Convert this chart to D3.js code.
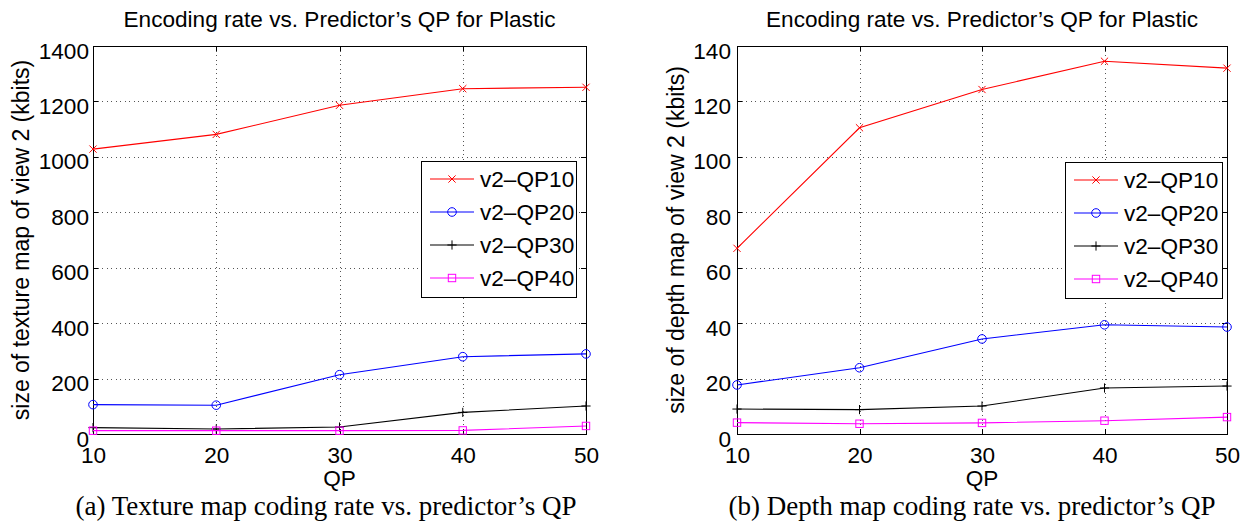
<!DOCTYPE html>
<html>
<head>
<meta charset="utf-8">
<script src="https://cdn.jsdelivr.net/npm/d3@7"></script>
<style>
  html, body { margin: 0; padding: 0; background: #fff; }
  svg { display: block; }
  text { font-family: "Liberation Sans", Arial, Helvetica, sans-serif; fill: #000; }
  .caption { font-family: "Liberation Serif", "Times New Roman", serif; }
</style>
</head>
<body>
<svg id="chart" width="1250" height="521"></svg>
<script>
// ---------- data ----------
const qpValues = [10, 20, 30, 40, 50];
const seriesNames = ["v2\u2013QP10", "v2\u2013QP20", "v2\u2013QP30", "v2\u2013QP40"];
const seriesColors = ["#ff0000", "#0000ff", "#000000", "#ff00ff"];
const seriesMarkers = ["x", "circle", "plus", "square"];

// (a) texture map size (kbits)
const textureQP10 = [1028, 1081, 1186, 1246, 1251];
const textureQP20 = [106, 104, 214, 279, 289];
const textureQP30 = [23, 18, 25, 78, 101];
const textureQP40 = [12, 12, 12, 13, 29];
const textureTicks = [0, 200, 400, 600, 800, 1000, 1200, 1400];

// (b) depth map size (kbits)
const depthQP10 = [67.0, 110.5, 124.3, 134.5, 132.0];
const depthQP20 = [17.7, 23.9, 34.3, 39.4, 38.6];
const depthQP30 = [9.0, 8.8, 10.1, 16.6, 17.3];
const depthQP40 = [4.1, 3.7, 4.0, 4.8, 6.1];
const depthTicks = [0, 20, 40, 60, 80, 100, 120, 140];

const titleText = "Encoding rate vs. Predictor\u2019s QP for Plastic";
const xLabelText = "QP";

const panels = [
  {
    series: [textureQP10, textureQP20, textureQP30, textureQP40],
    yTicks: textureTicks, yMax: 1400,
    yLabel: "size of texture map of view 2 (kbits)",
    caption: "(a) Texture map coding rate vs. predictor\u2019s QP",
    rect: { x0: 93, x1: 586, y0: 46, y1: 434 },
    yLabelX: 29, tickGap: 4, captionX: 326,
    legend: { x: 421, y: 161, w: 155, h: 136 }
  },
  {
    series: [depthQP10, depthQP20, depthQP30, depthQP40],
    yTicks: depthTicks, yMax: 140,
    yLabel: "size of depth map of view 2 (kbits)",
    caption: "(b) Depth map coding rate vs. predictor\u2019s QP",
    rect: { x0: 737, x1: 1227, y0: 46, y1: 434 },
    yLabelX: 684, tickGap: 6, captionX: 972,
    legend: { x: 1065, y: 162, w: 157, h: 136 }
  }
];

const FS = 22.6;
const svg = d3.select("#chart");

function drawMarker(g, type, cx, cy, color) {
  if (type === "x") {
    const s = 3.6;
    g.append("path").attr("d", `M${cx - s},${cy - s}L${cx + s},${cy + s}M${cx - s},${cy + s}L${cx + s},${cy - s}`)
      .attr("stroke", color).attr("stroke-width", 1).attr("fill", "none");
  } else if (type === "circle") {
    g.append("circle").attr("cx", cx).attr("cy", cy).attr("r", 4.3)
      .attr("stroke", color).attr("stroke-width", 1).attr("fill", "none");
  } else if (type === "plus") {
    const s = 4.6;
    g.append("path").attr("d", `M${cx - s},${cy}L${cx + s},${cy}M${cx},${cy - s}L${cx},${cy + s}`)
      .attr("stroke", color).attr("stroke-width", 1).attr("fill", "none");
  } else if (type === "square") {
    const s = 3.7;
    g.append("rect").attr("x", cx - s).attr("y", cy - s).attr("width", 2 * s).attr("height", 2 * s)
      .attr("stroke", color).attr("stroke-width", 1).attr("fill", "none");
  }
}

panels.forEach(p => {
  const r = p.rect;
  const x = d3.scaleLinear().domain([10, 50]).range([r.x0, r.x1]);
  const y = d3.scaleLinear().domain([0, p.yMax]).range([r.y1, r.y0]);
  const g = svg.append("g");

  // grid
  const grid = g.append("g").attr("stroke", "#555").attr("stroke-width", 1)
    .attr("stroke-dasharray", "1,3.5").attr("shape-rendering", "crispEdges");
  qpValues.slice(1, -1).forEach(v => {
    grid.append("line").attr("x1", Math.round(x(v)) + 0.5).attr("x2", Math.round(x(v)) + 0.5)
      .attr("y1", r.y0).attr("y2", r.y1);
  });
  p.yTicks.slice(1, -1).forEach(v => {
    grid.append("line").attr("y1", Math.round(y(v)) + 0.5).attr("y2", Math.round(y(v)) + 0.5)
      .attr("x1", r.x0).attr("x2", r.x1);
  });

  // axes via d3 axis (labels), ticks drawn inward
  const yAxis = d3.axisLeft(y).tickValues(p.yTicks).tickSize(0).tickPadding(p.tickGap).tickFormat(d3.format("d"));
  const ya = g.append("g").attr("transform", `translate(${r.x0},0)`).call(yAxis);
  ya.select(".domain").remove();
  ya.selectAll("text").attr("font-size", FS).attr("font-family", "Liberation Sans, Arial, sans-serif")
    .attr("dy", null).attr("y", 12).attr("fill", "#000");

  const xAxis = d3.axisBottom(x).tickValues(qpValues).tickSize(0).tickPadding(0).tickFormat(d3.format("d"));
  const xa = g.append("g").attr("transform", `translate(0,${r.y1})`).call(xAxis);
  xa.select(".domain").remove();
  xa.selectAll("text").attr("font-size", FS).attr("font-family", "Liberation Sans, Arial, sans-serif")
    .attr("dy", null).attr("y", 29).attr("fill", "#000");

  // inward tick marks on all four sides
  const tk = g.append("g").attr("stroke", "#000").attr("stroke-width", 1).attr("shape-rendering", "crispEdges");
  const TL = 5;
  qpValues.forEach(v => {
    const xx = Math.round(x(v)) + 0.5;
    tk.append("line").attr("x1", xx).attr("x2", xx).attr("y1", r.y1).attr("y2", r.y1 - TL);
    tk.append("line").attr("x1", xx).attr("x2", xx).attr("y1", r.y0).attr("y2", r.y0 + TL);
  });
  p.yTicks.forEach(v => {
    const yy = Math.round(y(v)) + 0.5;
    tk.append("line").attr("y1", yy).attr("y2", yy).attr("x1", r.x0).attr("x2", r.x0 + TL);
    tk.append("line").attr("y1", yy).attr("y2", yy).attr("x1", r.x1).attr("x2", r.x1 - TL);
  });

  // frame
  g.append("rect").attr("x", r.x0 + 0.5).attr("y", r.y0 + 0.5)
    .attr("width", r.x1 - r.x0).attr("height", r.y1 - r.y0)
    .attr("fill", "none").attr("stroke", "#000").attr("stroke-width", 1).attr("shape-rendering", "crispEdges");

  // series
  p.series.forEach((vals, i) => {
    const line = d3.line().x((d, j) => x(qpValues[j])).y(d => y(d));
    g.append("path").datum(vals).attr("d", line).attr("fill", "none")
      .attr("stroke", seriesColors[i]).attr("stroke-width", 1.1);
    vals.forEach((v, j) => drawMarker(g, seriesMarkers[i], x(qpValues[j]), y(v), seriesColors[i]));
  });

  // title, labels
  const cx = (r.x0 + r.x1) / 2;
  g.append("text").attr("x", cx).attr("y", 27).attr("text-anchor", "middle")
    .attr("font-size", FS).text(titleText);
  g.append("text").attr("x", cx).attr("y", 486).attr("text-anchor", "middle")
    .attr("font-size", FS).text(xLabelText);
  g.append("text").attr("transform", `translate(${p.yLabelX},${(r.y0 + r.y1) / 2}) rotate(-90)`)
    .attr("text-anchor", "middle").attr("font-size", 23).text(p.yLabel);
  g.append("text").attr("class", "caption").attr("x", p.captionX).attr("y", 515)
    .attr("text-anchor", "middle").attr("font-size", 27).text(p.caption);

  // legend
  const L = p.legend;
  const lg = g.append("g");
  lg.append("rect").attr("x", L.x + 0.5).attr("y", L.y + 0.5).attr("width", L.w).attr("height", L.h)
    .attr("fill", "#fff").attr("stroke", "#000").attr("stroke-width", 1).attr("shape-rendering", "crispEdges");
  seriesNames.forEach((name, i) => {
    const ly = L.y + 18 + i * 33;
    lg.append("line").attr("x1", L.x + 9).attr("x2", L.x + 53).attr("y1", ly).attr("y2", ly)
      .attr("stroke", seriesColors[i]).attr("stroke-width", 1.1);
    drawMarker(lg, seriesMarkers[i], L.x + 31, ly, seriesColors[i]);
    lg.append("text").attr("x", L.x + 59).attr("y", ly + 8).attr("font-size", FS).text(name);
  });
});
</script>
</body>
</html>
